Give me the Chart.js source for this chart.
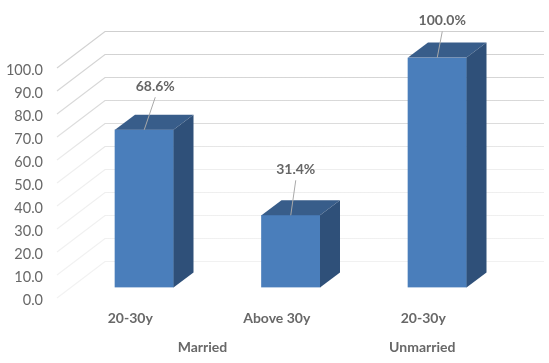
<!DOCTYPE html>
<html>
<head>
<meta charset="utf-8">
<style>
  html, body { margin: 0; padding: 0; background: #fff; }
  canvas { display: block; }
</style>
<script src="https://cdn.jsdelivr.net/npm/chart.js@4/dist/chart.umd.min.js"></script>
</head>
<body>
<canvas id="chart" width="549" height="363"></canvas>
<script>
const categories = ["20-30y", "Above 30y", "20-30y"];
const values = [68.6, 31.4, 100.0];
const valueLabels = ["68.6%", "31.4%", "100.0%"];
const groups = ["Married", "Unmarried"];
const groupMembers = [[0, 1], [2]];
const yTicks = [0, 10, 20, 30, 40, 50, 60, 70, 80, 90, 100];

// Where the leader-line labels sit relative to the bar's top centre
const labelShift = [[11, -43.5], [5, -46], [5, -37]];

const FONT = "Lato, 'Liberation Sans', sans-serif";
const TEXT = "#686868";

// 3D box depth in px
const DEPTH_X = 20;
const DEPTH_Y = 15;

const wallPlugin = {
  id: "wall",
  beforeDatasetsDraw(chart) {
    const { ctx, scales: { y } } = chart;
    const grad = ctx.createLinearGradient(0, 30, 0, 298);
    grad.addColorStop(0, "#cfcfcf");
    grad.addColorStop(0.35, "#dcdcdc");
    grad.addColorStop(0.5, "#eeeeee");
    grad.addColorStop(1, "#f2f2f2");
    ctx.save();
    ctx.strokeStyle = grad;
    ctx.lineWidth = 1.2;
    yTicks.forEach(v => {
      const py = y.getPixelForValue(v);
      ctx.beginPath();
      ctx.moveTo(57, py + 10.5);
      ctx.lineTo(105, py - 26);
      ctx.lineTo(544, py - 26);
      ctx.stroke();
    });
    ctx.restore();
  }
};

const boxPlugin = {
  id: "box",
  afterDatasetsDraw(chart) {
    const { ctx, scales: { x, y } } = chart;
    const bars = chart.getDatasetMeta(0).data;
    ctx.save();
    bars.forEach((bar, i) => {
      const half = bar.width / 2;
      const l = bar.x - half;
      const r = bar.x + half;
      const t = bar.y;
      const b = y.getPixelForValue(0);

      // top face
      ctx.fillStyle = "#385d8a";
      ctx.beginPath();
      ctx.moveTo(l, t);
      ctx.lineTo(l + DEPTH_X, t - DEPTH_Y);
      ctx.lineTo(r + DEPTH_X, t - DEPTH_Y);
      ctx.lineTo(r, t);
      ctx.closePath();
      ctx.fill();

      // side face
      ctx.fillStyle = "#2f5079";
      ctx.beginPath();
      ctx.moveTo(r, t);
      ctx.lineTo(r + DEPTH_X, t - DEPTH_Y);
      ctx.lineTo(r + DEPTH_X, b - DEPTH_Y);
      ctx.lineTo(r, b);
      ctx.closePath();
      ctx.fill();

      // value label and leader line
      const lx = bar.x + labelShift[i][0];
      const ly = t + labelShift[i][1];
      ctx.strokeStyle = "#a9a9a9";
      ctx.lineWidth = 1;
      ctx.beginPath();
      ctx.moveTo(lx, ly + 11);
      ctx.lineTo(bar.x, t);
      ctx.stroke();

      ctx.fillStyle = "#666666";
      ctx.font = "bold 14px " + FONT;
      ctx.textAlign = "center";
      ctx.textBaseline = "middle";
      ctx.fillText(valueLabels[i], lx, ly);
    });

    // outer level of the category axis
    ctx.fillStyle = TEXT;
    ctx.font = "bold 14px " + FONT;
    ctx.textAlign = "center";
    ctx.textBaseline = "middle";
    groups.forEach((g, i) => {
      const m = groupMembers[i];
      const cx = m.reduce((s, k) => s + x.getPixelForValue(k), 0) / m.length - 15;
      ctx.fillText(g, cx, 347);
    });
    ctx.restore();
  }
};

new Chart(document.getElementById("chart"), {
  type: "bar",
  data: {
    labels: categories,
    datasets: [{
      data: values,
      backgroundColor: "#4a7ebb",
      borderWidth: 0,
      barThickness: 58.5
    }]
  },
  options: {
    responsive: false,
    animation: false,
    layout: { padding: { top: 57.5, right: 38.5, bottom: 0, left: 0 } },
    plugins: { legend: { display: false }, tooltip: { enabled: false } },
    scales: {
      x: {
        grid: { display: false },
        border: { display: false },
        afterFit(scale) { scale.height = 75.5; },
        ticks: {
          color: TEXT,
          font: { family: FONT, size: 14, weight: "bold" },
          labelOffset: -14,
          padding: 15,
          maxRotation: 0,
          autoSkip: false
        }
      },
      y: {
        min: 0,
        max: 100,
        grid: { display: false },
        border: { display: false },
        afterFit(scale) { scale.width = 71; },
        ticks: {
          color: TEXT,
          font: { family: FONT, size: 14.5 },
          stepSize: 10,
          labelOffset: 13,
          padding: 20,
          callback: v => v.toFixed(1)
        }
      }
    }
  },
  plugins: [wallPlugin, boxPlugin]
});
</script>
</body>
</html>
